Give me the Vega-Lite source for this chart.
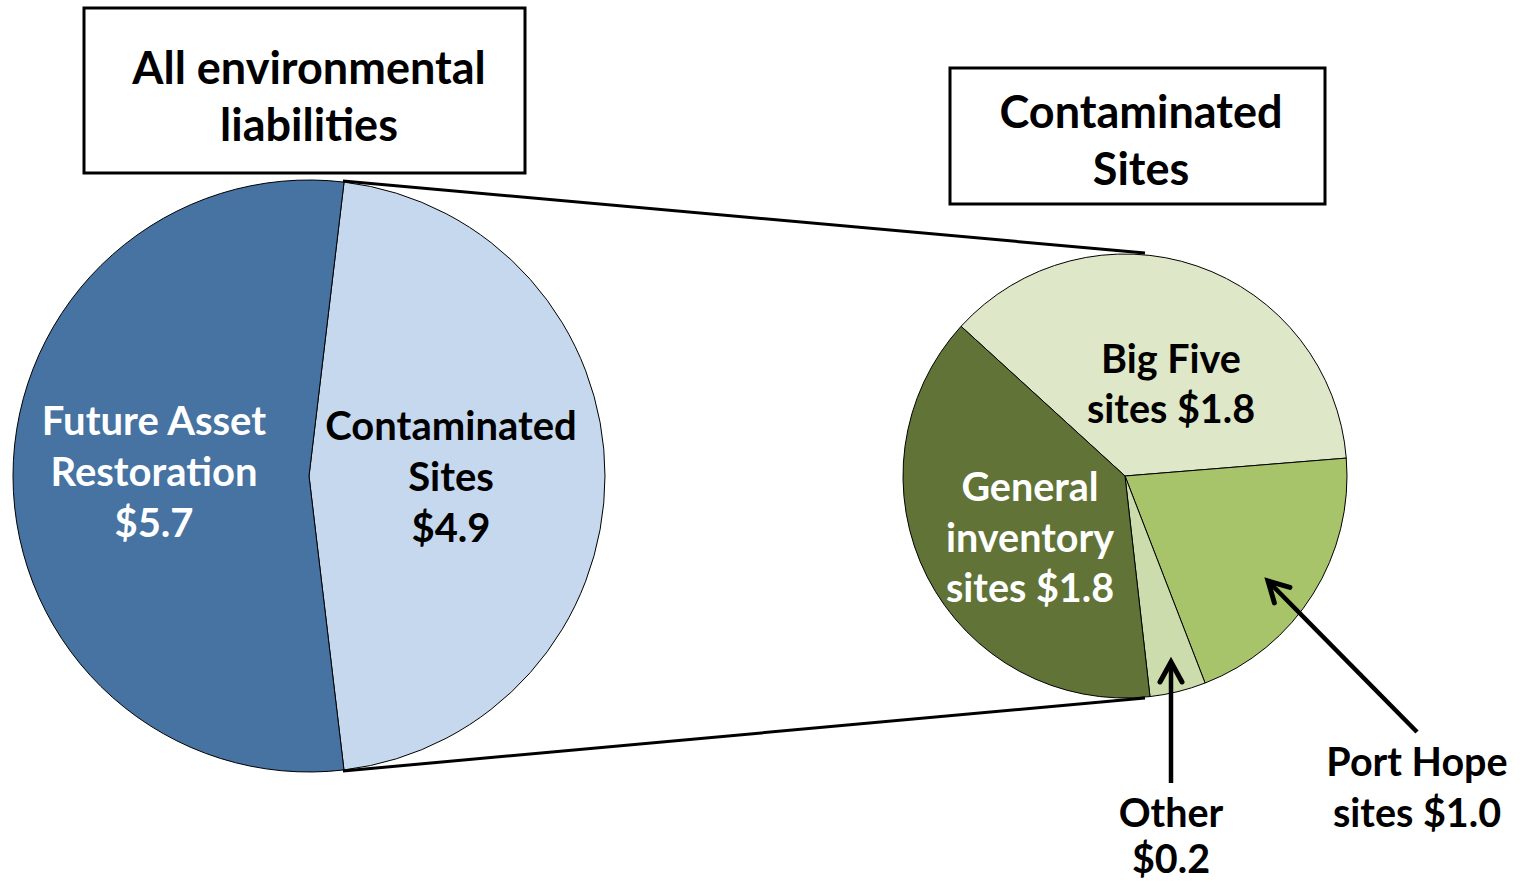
{
  "$schema": "https://vega.github.io/schema/vega-lite/v6.json",
  "width": 1521,
  "height": 882,
  "padding": 0,
  "autosize": {"type": "none"},
  "background": "white",
  "config": {"view": {"stroke": null}, "axis": {"disable": true}},
  "datasets": {
    "left": [
      {"category": "Contaminated Sites", "value": 4.9, "order": 1, "label": "Contaminated\nSites\n$4.9"},
      {"category": "Future Asset Restoration", "value": 5.7, "order": 2, "label": "Future Asset\nRestoration\n$5.7"}
    ],
    "right": [
      {"category": "Big Five sites", "value": 1.81, "order": 1, "label": "Big Five\nsites $1.8"},
      {"category": "Port Hope sites", "value": 1.0, "order": 2, "label": "Port Hope\nsites $1.0"},
      {"category": "Other", "value": 0.2, "order": 3, "label": "Other\n$0.2"},
      {"category": "General inventory sites", "value": 1.89, "order": 4, "label": "General\ninventory\nsites $1.8"}
    ],
    "titles": [
      {"panel": "left", "title": "All environmental\nliabilities"},
      {"panel": "right", "title": "Contaminated\nSites"}
    ]
  },
  "resolve": {"scale": {"theta": "independent"}},
  "layer": [
    {
      "data": {"name": "left"},
      "mark": {"type": "arc", "outerRadius": 296, "stroke": "black", "strokeWidth": 1},
      "encoding": {
        "theta": {"field": "value", "type": "quantitative", "stack": true, "scale": {"range": [0.1187, 6.4019]}},
        "order": {"field": "order", "type": "quantitative"},
        "color": {"field": "category", "type": "nominal", "legend": null,
          "scale": {"domain": ["Contaminated Sites", "Future Asset Restoration", "Big Five sites", "Port Hope sites", "Other", "General inventory sites"],
                    "range": ["#C5D8ED", "#4673A2", "#DEE7C8", "#A8C46A", "#CDDCAC", "#617336"]}},
        "x": {"datum": 309, "type": "quantitative", "scale": {"domain": [0, 1521], "nice": false, "zero": false}},
        "y": {"datum": 476, "type": "quantitative", "scale": {"domain": [0, 882], "nice": false, "zero": false, "reverse": true}}
      }
    },
    {
      "data": {"name": "right"},
      "mark": {"type": "arc", "outerRadius": 222, "stroke": "black", "strokeWidth": 1},
      "encoding": {
        "theta": {"field": "value", "type": "quantitative", "stack": true, "scale": {"range": [-0.8308, 5.4524]}},
        "order": {"field": "order", "type": "quantitative"},
        "color": {"field": "category", "type": "nominal", "legend": null},
        "x": {"datum": 1125, "type": "quantitative", "scale": {"domain": [0, 1521], "nice": false, "zero": false}},
        "y": {"datum": 476, "type": "quantitative", "scale": {"domain": [0, 882], "nice": false, "zero": false, "reverse": true}}
      }
    },
    {
      "data": {"values": [{}]},
      "mark": {"type": "rule", "color": "black", "strokeWidth": 3},
      "encoding": {
        "x": {"datum": 343, "type": "quantitative"}, "y": {"datum": 181, "type": "quantitative"},
        "x2": {"datum": 1145}, "y2": {"datum": 253}
      }
    },
    {
      "data": {"values": [{}]},
      "mark": {"type": "rule", "color": "black", "strokeWidth": 3},
      "encoding": {
        "x": {"datum": 343, "type": "quantitative"}, "y": {"datum": 771, "type": "quantitative"},
        "x2": {"datum": 1145}, "y2": {"datum": 698}
      }
    },
    {
      "data": {"values": [{}]},
      "mark": {"type": "rect", "fill": "white", "stroke": "black", "strokeWidth": 3},
      "encoding": {
        "x": {"datum": 84, "type": "quantitative"}, "y": {"datum": 8, "type": "quantitative"},
        "x2": {"datum": 525}, "y2": {"datum": 173}
      }
    },
    {
      "data": {"values": [{}]},
      "mark": {"type": "rect", "fill": "white", "stroke": "black", "strokeWidth": 3},
      "encoding": {
        "x": {"datum": 950, "type": "quantitative"}, "y": {"datum": 68, "type": "quantitative"},
        "x2": {"datum": 1325}, "y2": {"datum": 204}
      }
    },
    {
      "data": {"name": "titles"},
      "transform": [{"filter": "datum.panel === 'left'"}],
      "mark": {"type": "text", "font": "Lato", "fontWeight": "bold", "fontSize": 45, "color": "black", "lineBreak": "\n", "lineHeight": 57, "align": "center", "baseline": "alphabetic"},
      "encoding": {"x": {"datum": 309, "type": "quantitative"}, "y": {"datum": 84, "type": "quantitative"}, "text": {"field": "title"}}
    },
    {
      "data": {"name": "titles"},
      "transform": [{"filter": "datum.panel === 'right'"}],
      "mark": {"type": "text", "font": "Lato", "fontWeight": "bold", "fontSize": 45, "color": "black", "lineBreak": "\n", "lineHeight": 57, "align": "center", "baseline": "alphabetic"},
      "encoding": {"x": {"datum": 1141, "type": "quantitative"}, "y": {"datum": 128, "type": "quantitative"}, "text": {"field": "title"}}
    },
    {
      "data": {"name": "left"},
      "transform": [{"filter": "datum.category === 'Future Asset Restoration'"}],
      "mark": {"type": "text", "font": "Lato", "fontWeight": "bold", "fontSize": 40, "color": "white", "lineBreak": "\n", "lineHeight": 51, "align": "center", "baseline": "alphabetic"},
      "encoding": {"x": {"datum": 154, "type": "quantitative"}, "y": {"datum": 435, "type": "quantitative"}, "text": {"field": "label"}}
    },
    {
      "data": {"name": "left"},
      "transform": [{"filter": "datum.category === 'Contaminated Sites'"}],
      "mark": {"type": "text", "font": "Lato", "fontWeight": "bold", "fontSize": 40, "color": "black", "lineBreak": "\n", "lineHeight": 51, "align": "center", "baseline": "alphabetic"},
      "encoding": {"x": {"datum": 451, "type": "quantitative"}, "y": {"datum": 440, "type": "quantitative"}, "text": {"field": "label"}}
    },
    {
      "data": {"name": "right"},
      "transform": [{"filter": "datum.category === 'Big Five sites'"}],
      "mark": {"type": "text", "font": "Lato", "fontWeight": "bold", "fontSize": 39.5, "color": "black", "lineBreak": "\n", "lineHeight": 50, "align": "center", "baseline": "alphabetic"},
      "encoding": {"x": {"datum": 1171, "type": "quantitative"}, "y": {"datum": 373, "type": "quantitative"}, "text": {"field": "label"}}
    },
    {
      "data": {"name": "right"},
      "transform": [{"filter": "datum.category === 'General inventory sites'"}],
      "mark": {"type": "text", "font": "Lato", "fontWeight": "bold", "fontSize": 39.5, "color": "white", "lineBreak": "\n", "lineHeight": 50.5, "align": "center", "baseline": "alphabetic"},
      "encoding": {"x": {"datum": 1030, "type": "quantitative"}, "y": {"datum": 501, "type": "quantitative"}, "text": {"field": "label"}}
    },
    {
      "data": {"name": "right"},
      "transform": [{"filter": "datum.category === 'Port Hope sites'"}],
      "mark": {"type": "text", "font": "Lato", "fontWeight": "bold", "fontSize": 39.5, "color": "black", "lineBreak": "\n", "lineHeight": 51, "align": "center", "baseline": "alphabetic"},
      "encoding": {"x": {"datum": 1417, "type": "quantitative"}, "y": {"datum": 776, "type": "quantitative"}, "text": {"field": "label"}}
    },
    {
      "data": {"name": "right"},
      "transform": [{"filter": "datum.category === 'Other'"}],
      "mark": {"type": "text", "font": "Lato", "fontWeight": "bold", "fontSize": 39.5, "color": "black", "lineBreak": "\n", "lineHeight": 46, "align": "center", "baseline": "alphabetic"},
      "encoding": {"x": {"datum": 1171, "type": "quantitative"}, "y": {"datum": 827, "type": "quantitative"}, "text": {"field": "label"}}
    },
    {
      "data": {"values": [{}]},
      "mark": {"type": "rule", "color": "black", "strokeWidth": 4.5},
      "encoding": {
        "x": {"datum": 1171, "type": "quantitative"}, "y": {"datum": 783, "type": "quantitative"},
        "x2": {"datum": 1171}, "y2": {"datum": 663}
      }
    },
    {
      "data": {"values": [{}]},
      "mark": {"type": "rule", "color": "black", "strokeWidth": 4.5},
      "encoding": {
        "x": {"datum": 1417, "type": "quantitative"}, "y": {"datum": 732, "type": "quantitative"},
        "x2": {"datum": 1269}, "y2": {"datum": 582}
      }
    },
    {
      "data": {"values": [{}]},
      "mark": {"type": "point", "shape": "M-0.55,1L0,0L0.55,1", "size": 1600, "filled": false, "stroke": "black", "strokeWidth": 5, "strokeCap": "round", "strokeJoin": "miter", "opacity": 1, "angle": 0},
      "encoding": {"x": {"datum": 1171, "type": "quantitative"}, "y": {"datum": 662, "type": "quantitative"}}
    },
    {
      "data": {"values": [{}]},
      "mark": {"type": "point", "shape": "M-0.55,1L0,0L0.55,1", "size": 1600, "filled": false, "stroke": "black", "strokeWidth": 5, "strokeCap": "round", "strokeJoin": "miter", "opacity": 1, "angle": -45},
      "encoding": {"x": {"datum": 1268, "type": "quantitative"}, "y": {"datum": 581, "type": "quantitative"}}
    }
  ]
}
